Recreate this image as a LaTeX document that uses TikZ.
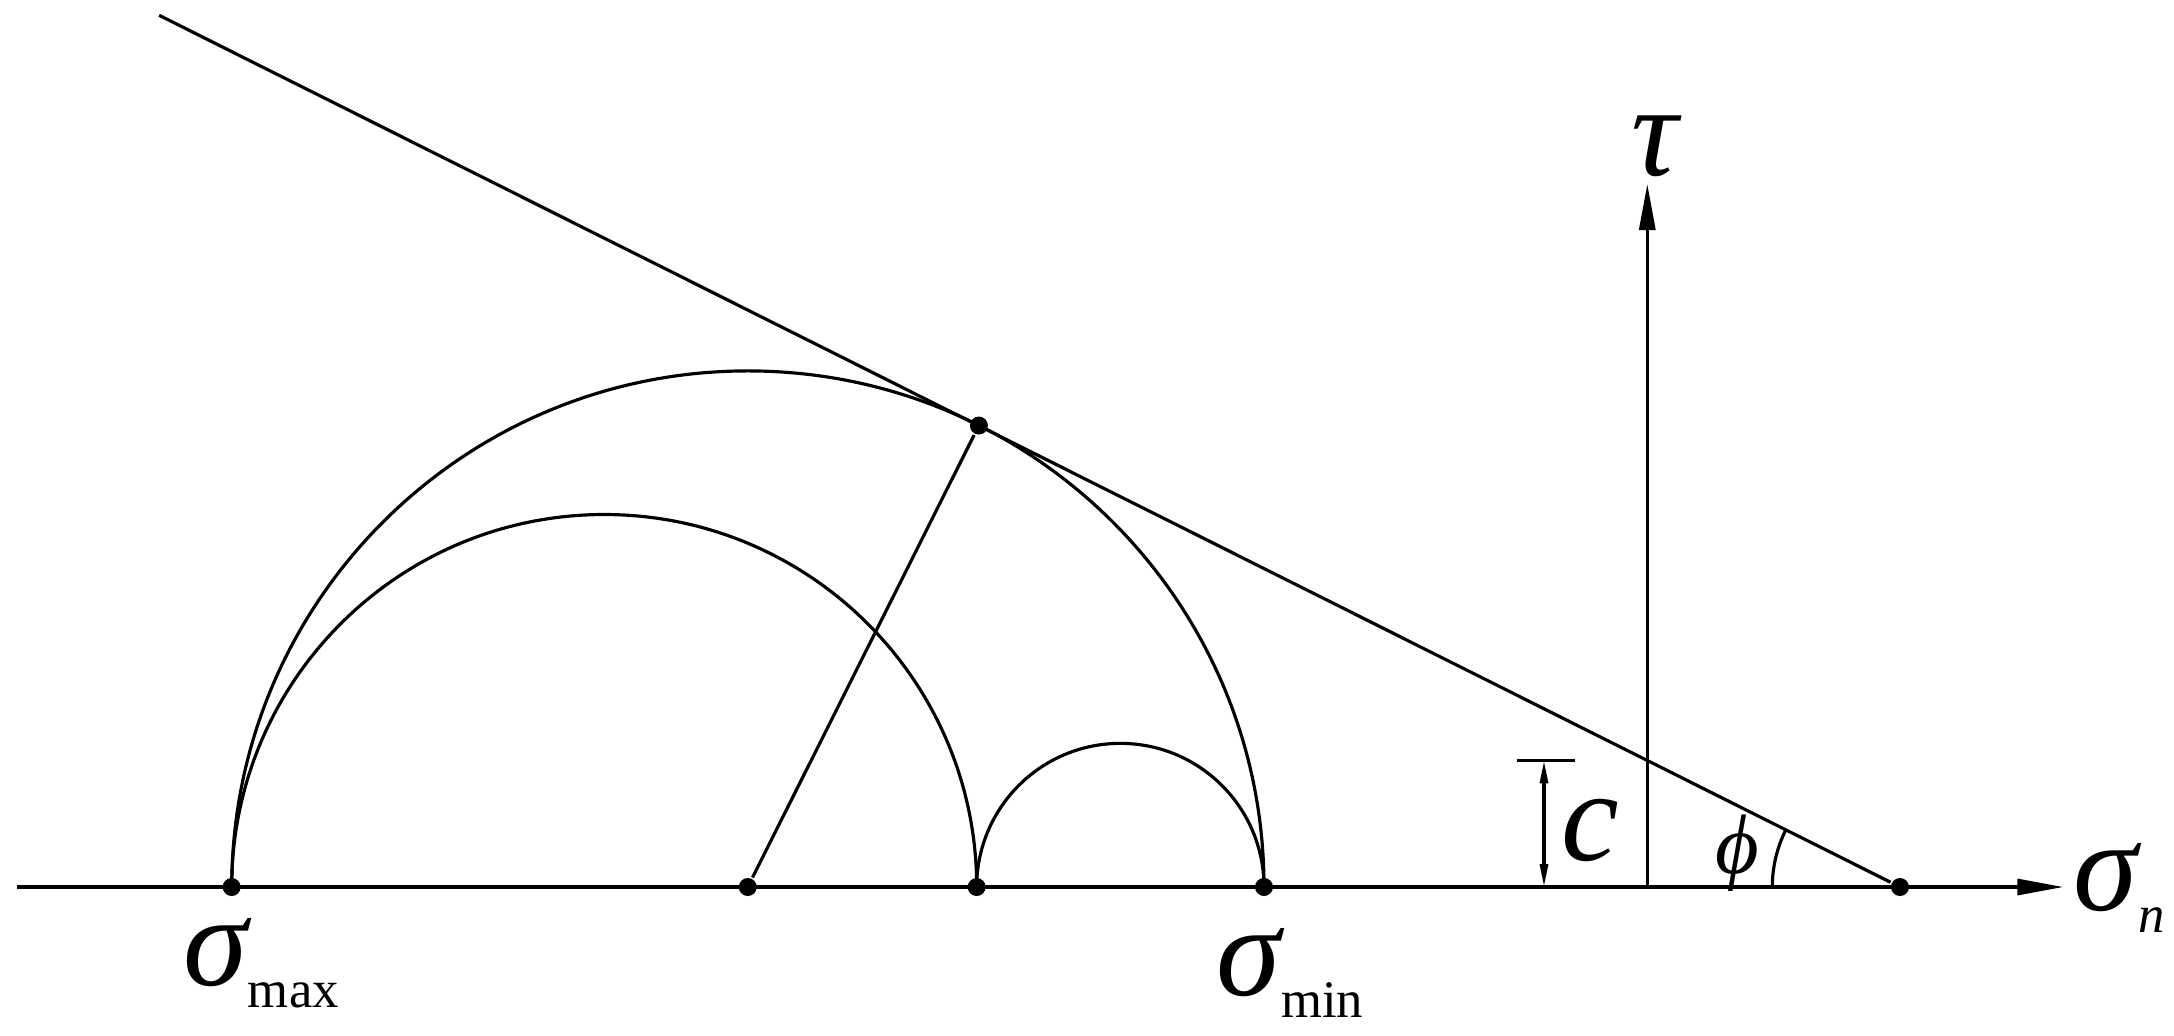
\documentclass[tikz,border=0pt]{standalone}
\usepackage{fontspec}
\setmainfont{Liberation Serif}
\usetikzlibrary{arrows.meta,positioning,calc}
\newcommand{\symfont}{\fontsize{37}{37}\selectfont\itshape}
\newcommand{\lowsub}[1]{\raisebox{-0.22cm}{\fontsize{15}{15}\selectfont #1}}
\tikzset{
  basic/.style  = {line width=0.9pt},
  dot/.style    = {circle, fill=black, inner sep=0pt, minimum size=0.18cm},
  axis/.style   = {basic, -{Triangle[length=0.46cm,width=0.16cm]}},
  dim/.style    = {basic, {Triangle[length=0.23cm,width=0.08cm]}-{Triangle[length=0.23cm,width=0.08cm]}},
  sym/.style    = {inner sep=0pt, font=\symfont}
}

\begin{document}
\begin{tikzpicture}[basic]
\useasboundingbox (-16.473,-1.48) rectangle (5.267,8.87);

% points on the sigma axis
\coordinate (O) at (0,0);
\coordinate (axl) at (-16.30,0);
\coordinate (axr) at (4.16,0);
\coordinate (tautip) at (0,7.03);
\node[dot] (smax) at (-14.156,0) {};
\node[dot] (ctr)  at (-8.995,0) {};
\node[dot] (mid)  at (-6.706,0) {};
\node[dot] (smin) at (-3.833,0) {};
\node[dot] (ipt)  at (2.527,0) {};
% tangent point and far end of the envelope
\node[dot] (tpt) at ($(ctr)+(63.4:5.161)$) {};
\coordinate (lend) at ($(ipt)+(153.4:19.47)$);

% axes
\draw[axis] (axl) -- (axr);
\draw[axis] (O) -- (tautip);

% Mohr circles
\draw (smin.center) arc[start angle=0, end angle=180, radius=5.161];
\draw (mid.center) arc[start angle=0, end angle=180, radius=3.725];
\draw (smin.center) arc[start angle=0, end angle=180, radius=1.4365];

% envelope and radius
\draw (ipt) -- (lend);
\draw (ctr) -- (tpt);

% cohesion
\coordinate (cbot) at (-1.033,0);
\coordinate (ctop) at (-1.033,1.266);
\draw (-1.306,1.266) -- (-0.723,1.266);
\draw[dim] (ctop) -- (cbot);

% friction angle
\draw (ipt.center) ++(180:1.277) arc[start angle=180, end angle=153.4, radius=1.277];

% labels
\node[sym, anchor=base] (taulbl) at (0.07,7.12) {τ};
\node[sym, anchor=base west] (snlbl) at (4.25,-0.23) {σ\lowsub{\itshape n}};
\node[sym, anchor=base west] (smaxlbl) at (-14.65,-0.98) {σ\lowsub{\upshape max}};
\node[sym, anchor=base west] (sminlbl) at (-4.32,-1.08) {σ\lowsub{\upshape min}};
\node[sym, anchor=base west] (clbl) at (-0.87,0.27) {c};
\node[sym, anchor=base, font=\fontsize{24}{24}\selectfont\itshape] (philbl) at (0.90,0.14) {ϕ};
\end{tikzpicture}
\end{document}
